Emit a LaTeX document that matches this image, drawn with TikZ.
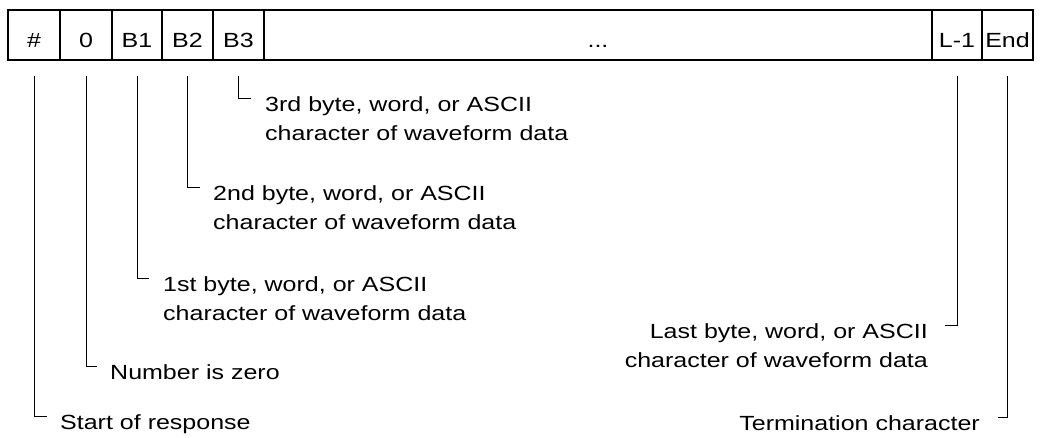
\documentclass[tikz,border=0pt]{standalone}
\usepackage{fontspec}
\setmainfont{Liberation Sans}[FakeStretch=1.22]
\begin{document}
\begin{tikzpicture}[x=1pt,y=-1pt,
  cell/.style={draw, line width=1.6pt, minimum height=50pt, inner sep=0pt,
    text height=25pt, text depth=0pt, font=\fontsize{20.5}{28.5}\selectfont},
  lbl/.style={inner sep=0pt, font=\fontsize{20.5}{28.5}\selectfont},
  hook/.style={draw, line width=1pt}]
\useasboundingbox (0,0) rectangle (1041,437);
\node[cell, minimum width=52pt] (hash) at (34,35) {\#};
\node[cell, minimum width=52pt] (zero) at (86,35) {0};
\node[cell, minimum width=50pt] (b1) at (137,35) {B1};
\node[cell, minimum width=51pt] (b2) at (187.5,35) {B2};
\node[cell, minimum width=51pt] (b3) at (238.5,35) {B3};
\node[cell, minimum width=668pt] (dots) at (598,35) {...};
\node[cell, minimum width=50pt] (lm1) at (957,35) {L-1};
\node[cell, minimum width=51pt] (end) at (1007.5,35) {End};

% multi-line nodes: base anchor = baseline of the last line
\node[lbl, anchor=base west, align=left] (tb3) at (265,140.3)
  {3rd byte, word, or ASCII\\character of waveform data};
\node[lbl, anchor=base west, align=left] (tb2) at (213,229.3)
  {2nd byte, word, or ASCII\\character of waveform data};
\node[lbl, anchor=base west, align=left] (tb1) at (163,320)
  {1st byte, word, or ASCII\\character of waveform data};
\node[lbl, anchor=base west] (tzero) at (110,379.5) {Number is zero};
\node[lbl, anchor=base west] (tstart) at (60,429.5) {Start of response};
\node[lbl, anchor=base east, align=right] (tlast) at (928,367)
  {Last byte, word, or ASCII\\character of waveform data};
\node[lbl, anchor=base east] (tend) at (980,430.5) {Termination character};

\draw[hook] ([yshift=-15pt]b3.south) |- ([xshift=-14pt,yshift=42pt]tb3.base west);
\draw[hook] ([yshift=-15pt]b2.south) |- ([xshift=-13pt,yshift=42pt]tb2.base west);
\draw[hook] ([yshift=-15pt]b1.south) |- ([xshift=-14pt,yshift=42pt]tb1.base west);
\draw[hook] ([yshift=-15pt]zero.south) |- ([xshift=-13pt,yshift=13.5pt]tzero.base west);
\draw[hook] ([yshift=-15pt]hash.south) |- ([xshift=-13pt,yshift=13.5pt]tstart.base west);
\draw[hook] ([yshift=-15pt]lm1.south) |- ([xshift=17pt,yshift=42pt]tlast.base east);
\draw[hook] ([yshift=-15pt]end.south) |- ([xshift=18pt,yshift=13.5pt]tend.base east);
\end{tikzpicture}
\end{document}
